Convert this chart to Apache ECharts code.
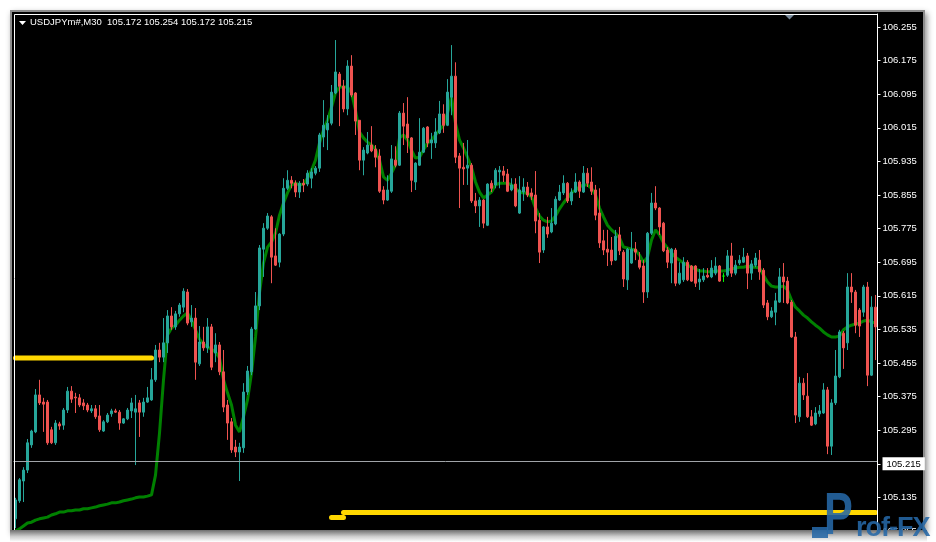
<!DOCTYPE html>
<html><head><meta charset="utf-8">
<script src="https://cdn.jsdelivr.net/npm/echarts@6/dist/echarts.min.js"></script>
<style>
html,body{margin:0;padding:0;background:#fff;width:936px;height:542px;overflow:hidden;}
#frame{position:absolute;left:10px;top:10px;width:915px;height:521px;background:#8c8c8c;box-shadow:2px 3px 6px rgba(0,0,0,0.45);}
#bg{position:absolute;left:12px;top:12px;width:911px;height:518px;background:#000;}
#chart{position:absolute;left:0;top:0;width:936px;height:542px;}
#cover{position:absolute;left:10px;top:530px;width:917px;height:12px;background:linear-gradient(#6e6e6e,#cfcfcf 55%,#fff);}
#logo{position:absolute;left:0;top:0;width:936px;height:542px;pointer-events:none;font-family:"Liberation Sans",Arial,sans-serif;font-weight:bold;color:rgba(38,104,166,0.88);}
#logo .bar{position:absolute;left:812px;top:527px;width:16px;height:11px;background:rgba(38,104,166,0.88);}
#logo .P{position:absolute;left:824px;top:484px;font-size:60px;line-height:60px;transform:scaleX(0.72);transform-origin:left top;}
#logo .rest{position:absolute;left:856px;top:514px;font-size:27px;line-height:27px;letter-spacing:-1px;}
</style>
</head>
<body>
<div id="frame"></div>
<div id="bg"></div>
<div id="chart"></div>
<div id="cover"></div>
<div id="logo"><div class="bar"></div><div class="P">P</div><div class="rest">rof-FX</div></div>
<script>
// ---- data ----
const titleText = 'USDJPYm#,M30  105.172 105.254 105.172 105.215';
const lastPrice = 105.215;
const yTicks = [105.055,105.135,105.215,105.295,105.375,105.455,105.535,105.615,105.695,105.775,105.855,105.935,106.015,106.095,106.175,106.255];
const yMin = 105.055;
const yMax = 106.286;
// [open, close, low, high]
const candles = [
[105.084,105.129,105.062,105.134],[105.127,105.177,105.122,105.181],[105.174,105.200,105.124,105.207],[105.200,105.265,105.193,105.274],
[105.260,105.293,105.253,105.296],[105.291,105.379,105.288,105.393],[105.379,105.360,105.355,105.415],[105.362,105.357,105.291,105.372],
[105.362,105.265,105.260,105.367],[105.296,105.265,105.262,105.303],[105.265,105.312,105.260,105.319],[105.310,105.305,105.296,105.315],
[105.307,105.343,105.296,105.348],[105.343,105.388,105.336,105.398],[105.388,105.369,105.360,105.400],[105.374,105.372,105.336,105.384],
[105.372,105.355,105.350,105.381],[105.360,105.353,105.343,105.369],[105.355,105.343,105.338,105.360],[105.341,105.346,105.336,105.355],
[105.346,105.327,105.322,105.355],[105.329,105.296,105.291,105.355],[105.293,105.315,105.291,105.319],[105.315,105.331,105.312,105.336],
[105.334,105.341,105.327,105.346],[105.341,105.338,105.336,105.346],[105.338,105.312,105.296,105.343],[105.312,105.322,105.310,105.324],
[105.322,105.343,105.319,105.348],[105.341,105.360,105.324,105.372],[105.338,105.346,105.212,105.379],[105.360,105.338,105.279,105.367],
[105.338,105.362,105.327,105.372],[105.362,105.372,105.360,105.398],[105.367,105.415,105.365,105.443],[105.415,105.486,105.410,105.498],
[105.486,105.469,105.457,105.503],[105.469,105.503,105.457,105.562],[105.503,105.567,105.479,105.581],[105.567,105.541,105.534,105.588],
[105.541,105.572,105.534,105.579],[105.572,105.593,105.565,105.598],[105.588,105.626,105.576,105.633],[105.624,105.550,105.545,105.631],
[105.553,105.562,105.541,105.593],[105.562,105.457,105.415,105.586],[105.453,105.505,105.448,105.543],[105.505,105.491,105.484,105.541],
[105.491,105.541,105.479,105.562],[105.541,105.445,105.438,105.548],[105.479,105.498,105.457,105.526],[105.498,105.434,105.426,105.505],
[105.434,105.350,105.338,105.486],[105.355,105.312,105.272,105.367],[105.315,105.248,105.241,105.324],[105.255,105.243,105.231,105.272],
[105.243,105.255,105.174,105.265],[105.253,105.386,105.241,105.407],[105.386,105.436,105.379,105.448],[105.434,105.536,105.426,105.541],
[105.536,105.591,105.534,105.624],[105.591,105.729,105.581,105.736],[105.726,105.776,105.660,105.788],[105.776,105.805,105.772,105.812],
[105.803,105.707,105.645,105.807],[105.710,105.688,105.686,105.776],[105.695,105.762,105.683,105.764],[105.762,105.871,105.757,105.895],
[105.871,105.890,105.867,105.914],[105.890,105.883,105.871,105.900],[105.883,105.862,105.850,105.890],[105.862,105.883,105.848,105.888],
[105.883,105.879,105.862,105.893],[105.881,105.907,105.876,105.914],[105.895,105.910,105.871,105.919],[105.907,105.919,105.902,105.924],
[105.919,105.998,105.910,106.003],[105.993,106.021,105.969,106.081],[106.010,106.026,105.962,106.045],[106.026,106.100,106.021,106.117],
[106.098,106.148,106.095,106.224],[106.143,106.114,106.019,106.148],[106.114,106.060,106.052,106.129],[106.060,106.162,106.045,106.176],
[106.162,106.093,106.088,106.188],[106.098,106.031,105.998,106.100],[106.033,105.938,105.914,106.033],[105.938,105.962,105.902,105.969],
[105.955,105.974,105.952,106.005],[105.974,105.960,105.957,106.019],[105.964,105.945,105.921,105.974],[105.948,105.864,105.860,105.964],
[105.867,105.843,105.833,105.876],[105.843,105.867,105.841,105.902],[105.864,105.941,105.860,105.974],[105.938,105.926,105.921,105.971],
[105.926,106.050,105.924,106.055],[106.050,106.019,105.974,106.074],[106.024,105.991,105.955,106.088],[105.991,105.890,105.862,105.993],
[105.886,105.931,105.867,105.933],[105.926,105.957,105.924,106.038],[105.957,106.014,105.955,106.017],[106.017,105.979,105.969,106.019],
[105.979,105.986,105.941,106.003],[105.979,106.005,105.967,106.038],[106.003,106.048,106.000,106.079],[106.048,106.021,106.003,106.071],
[106.021,106.100,106.019,106.131],[106.088,106.138,106.045,106.212],[106.138,105.945,105.931,106.171],[105.948,105.919,105.824,105.955],
[105.921,105.917,105.879,105.979],[105.919,105.926,105.879,105.986],[105.926,105.841,105.836,105.931],[105.841,105.829,105.812,105.860],
[105.829,105.843,105.779,105.850],[105.843,105.788,105.776,105.845],[105.783,105.881,105.781,105.883],[105.883,105.871,105.862,105.890],
[105.879,105.914,105.871,105.919],[105.910,105.914,105.871,105.924],[105.912,105.902,105.886,105.924],[105.905,105.864,105.862,105.917],
[105.867,105.879,105.864,105.895],[105.881,105.829,105.826,105.895],[105.812,105.867,105.810,105.900],[105.862,105.874,105.841,105.895],
[105.874,105.855,105.850,105.886],[105.860,105.852,105.843,105.871],[105.855,105.793,105.764,105.912],[105.795,105.719,105.693,105.812],
[105.724,105.779,105.717,105.781],[105.779,105.762,105.753,105.803],[105.767,105.788,105.764,105.824],[105.786,105.845,105.783,105.852],
[105.843,105.862,105.841,105.879],[105.860,105.883,105.855,105.902],[105.883,105.841,105.836,105.886],[105.841,105.862,105.831,105.871],
[105.862,105.886,105.860,105.907],[105.886,105.864,105.848,105.890],[105.862,105.907,105.860,105.924],[105.907,105.883,105.874,105.919],
[105.886,105.864,105.855,105.921],[105.867,105.807,105.795,105.879],[105.812,105.741,105.729,105.871],[105.746,105.724,105.712,105.772],
[105.726,105.719,105.686,105.772],[105.724,105.698,105.688,105.755],[105.700,105.757,105.698,105.772],[105.760,105.722,105.712,105.779],
[105.719,105.655,105.636,105.724],[105.653,105.726,105.629,105.729],[105.693,105.726,105.691,105.767],[105.726,105.719,105.700,105.743],
[105.700,105.683,105.678,105.719],[105.686,105.624,105.598,105.700],[105.624,105.764,105.610,105.767],[105.764,105.836,105.760,105.860],
[105.836,105.824,105.819,105.876],[105.824,105.779,105.760,105.826],[105.788,105.722,105.719,105.791],[105.724,105.695,105.681,105.731],
[105.693,105.726,105.645,105.729],[105.724,105.645,105.638,105.729],[105.645,105.669,105.641,105.695],[105.653,105.695,105.648,105.707],
[105.695,105.653,105.650,105.700],[105.686,105.650,105.648,105.688],[105.686,105.645,105.636,105.688],[105.648,105.655,105.629,105.679],
[105.653,105.662,105.648,105.681],[105.664,105.660,105.657,105.681],[105.660,105.681,105.657,105.700],[105.669,105.686,105.664,105.707],
[105.686,105.650,105.648,105.688],[105.662,105.662,105.648,105.669],[105.664,105.710,105.660,105.724],[105.710,105.669,105.660,105.741],
[105.669,105.688,105.664,105.700],[105.693,105.700,105.688,105.712],[105.695,105.707,105.693,105.729],[105.710,105.669,105.631,105.717],
[105.669,105.691,105.653,105.700],[105.688,105.705,105.683,105.717],[105.700,105.672,105.653,105.724],[105.676,105.593,105.586,105.681],
[105.598,105.565,105.557,105.605],[105.565,105.579,105.562,105.588],[105.576,105.603,105.545,105.622],[105.600,105.660,105.598,105.681],
[105.660,105.648,105.598,105.693],[105.650,105.598,105.595,105.660],[105.600,105.517,105.515,105.605],[105.517,105.331,105.312,105.529],
[105.327,105.407,105.315,105.422],[105.407,105.379,105.367,105.419],[105.376,105.327,105.324,105.431],[105.327,105.307,105.305,105.343],
[105.310,105.336,105.307,105.350],[105.334,105.341,105.327,105.355],[105.336,105.391,105.334,105.407],[105.391,105.257,105.238,105.398],
[105.257,105.360,105.236,105.369],[105.360,105.424,105.355,105.486],[105.422,105.529,105.419,105.534],[105.526,105.491,105.441,105.531],
[105.503,105.636,105.486,105.669],[105.636,105.624,105.598,105.669],[105.624,105.545,105.526,105.629],[105.581,105.543,105.517,105.586],
[105.576,105.636,105.565,105.641],[105.636,105.426,105.400,105.648],[105.426,105.588,105.424,105.614],[105.588,105.541,105.462,105.617]
];
// green moving average
const maLine = [
105.055,105.060,105.067,105.074,105.076,105.081,105.084,105.086,105.088,105.093,
105.096,105.100,105.100,105.103,105.103,105.105,105.105,105.108,105.108,105.110,
105.112,105.115,105.117,105.119,105.122,105.122,105.124,105.127,105.129,105.131,
105.134,105.136,105.136,105.138,105.141,105.188,105.288,105.415,105.522,105.538,
105.545,105.557,105.567,105.574,105.557,105.534,105.512,105.500,105.493,105.488,
105.481,105.467,105.415,105.384,105.355,105.307,105.291,105.327,105.367,105.431,
105.517,105.622,105.693,105.731,105.743,105.764,105.807,105.836,105.860,105.879,
105.883,105.879,105.881,105.895,105.914,105.938,105.979,106.010,106.033,106.064,
106.098,106.112,106.112,106.112,106.098,106.057,106.005,105.991,105.981,105.974,
105.964,105.938,105.898,105.890,105.907,105.926,105.991,105.998,105.986,105.962,
105.943,105.945,105.962,105.979,105.986,105.998,106.010,106.021,106.050,106.088,
106.026,105.986,105.967,105.945,105.921,105.886,105.862,105.848,105.855,105.862,
105.879,105.883,105.883,105.883,105.879,105.871,105.862,105.860,105.860,105.850,
105.824,105.805,105.795,105.791,105.793,105.805,105.822,105.836,105.848,105.860,
105.867,105.874,105.879,105.879,105.871,105.855,105.824,105.803,105.783,105.772,
105.764,105.753,105.731,105.729,105.726,105.724,105.712,105.695,105.707,105.748,
105.772,105.760,105.741,105.729,105.717,105.707,105.700,105.693,105.688,105.683,
105.679,105.674,105.674,105.672,105.672,105.674,105.674,105.674,105.676,105.679,
105.681,105.683,105.683,105.686,105.683,105.683,105.681,105.664,105.648,105.638,
105.636,105.636,105.638,105.629,105.605,105.588,105.579,105.569,105.562,105.553,
105.545,105.538,105.529,105.522,105.517,105.517,105.519,105.534,105.541,105.545,
105.548,105.550,105.555,105.557,105.553,105.550
];
// yellow level segments: [first bar, last bar, price]
const levelSegments = [
  [0, 34, 105.467],
  [79, 82, 105.087],
  [82, 215, 105.099]
];
const categories = candles.map((_, i) => String(i + 1));

// ---- chart ----
const chart = echarts.init(document.getElementById('chart'), null, {renderer: 'canvas'});
const FONT = '"Liberation Sans", Arial, sans-serif';

const levelSeries = levelSegments.map(([a, b, p]) => ({
  type: 'line',
  data: categories.map((_, i) => (i >= a && i <= b) ? p : null),
  showSymbol: false,
  connectNulls: false,
  silent: true,
  z: 3,
  lineStyle: {color: '#ffd700', width: 5, cap: 'round'}
}));

chart.setOption({
  animation: false,
  backgroundColor: 'transparent',
  grid: {left: 13.5, top: 14, width: 864, height: 517, containLabel: false},
  xAxis: {type: 'category', data: categories, boundaryGap: true, show: false},
  yAxis: {
    type: 'value', position: 'right', min: yMin, max: yMax, scale: true,
    axisLine: {show: true, lineStyle: {color: '#ffffff', width: 1}},
    axisTick: {show: true, customValues: yTicks, length: 3, lineStyle: {color: '#ffffff'}},
    splitLine: {show: false},
    axisLabel: {
      customValues: yTicks, color: '#ffffff', fontSize: 9.5, fontFamily: FONT, margin: 5,
      formatter: v => Math.abs(v - lastPrice) < 1e-6 ? '{hl|' + v.toFixed(3) + '}' : v.toFixed(3),
      rich: {hl: {backgroundColor: '#ffffff', color: '#000000', padding: [2, 4, 1, 4], fontSize: 9.5, fontFamily: FONT}}
    }
  },
  series: [
    {
      type: 'line', data: maLine, showSymbol: false, silent: true, z: 1,
      lineStyle: {color: '#008000', width: 3}
    },
    {
      type: 'candlestick', data: candles, barWidth: 2, z: 2,
      itemStyle: {
        color: '#26a69a', color0: '#ef5350',
        borderColor: '#26a69a', borderColor0: '#ef5350',
        borderColorDoji: '#00ff00', borderWidth: 1
      },
      markLine: {
        silent: true, symbol: 'none', animation: false,
        label: {show: false},
        lineStyle: {color: '#a0a4a8', width: 1, type: 'solid'},
        data: [{yAxis: lastPrice}]
      }
    },
    ...levelSeries
  ],
  graphic: [
    {type: 'rect', z: 10, silent: true, shape: {x: 14.5, y: 14.5, width: 863, height: 530},
     style: {fill: null, stroke: '#ffffff', lineWidth: 1}},
    {type: 'polygon', z: 10, silent: true, shape: {points: [[19, 21], [26, 21], [22.5, 25]]}, style: {fill: '#ffffff'}},
    {type: 'text', z: 10, silent: true, x: 30, y: 17,
     style: {text: titleText, fill: '#ffffff', font: '9.5px ' + FONT}},
    {type: 'polygon', z: 10, silent: true, shape: {points: [[785, 15], [794, 15], [789.5, 19.5]]}, style: {fill: '#778899'}}
  ]
});
</script>
</body></html>
